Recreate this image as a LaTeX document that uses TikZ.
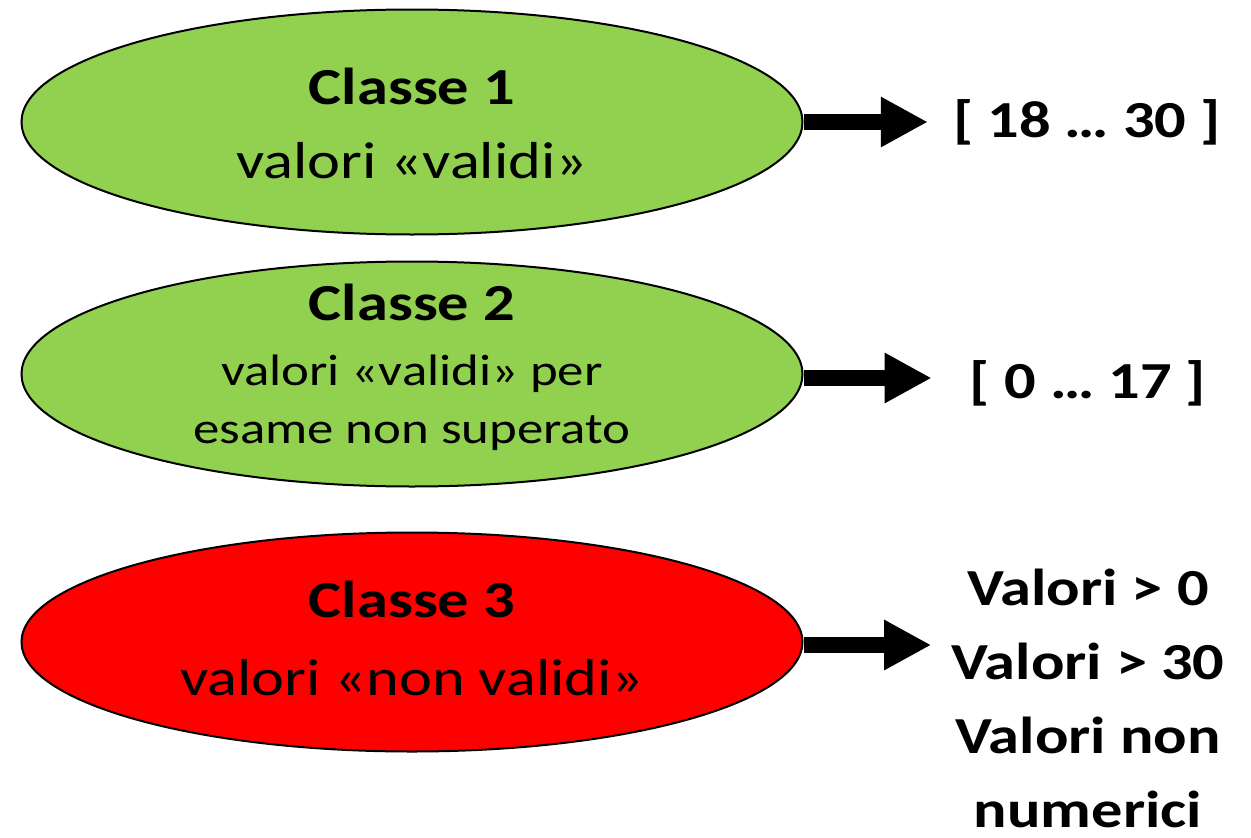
\documentclass[tikz,border=0pt]{standalone}
\usepackage{fontspec}
\setmainfont{Carlito}[FakeStretch=1.2]
\usetikzlibrary{shapes.geometric,arrows.meta}
\definecolor{lgreen}{HTML}{92D050}
\begin{document}
\begin{tikzpicture}[x=1pt,y=-1pt,
  cls/.style={ellipse,draw=black,line width=2pt,minimum width=781pt,minimum height=225pt,inner sep=0pt},
  title/.style={font=\fontsize{52}{62}\selectfont\bfseries,anchor=base,inner sep=0pt},
  sub/.style={font=\fontsize{52}{62}\selectfont,anchor=base,inner sep=0pt},
  subsmall/.style={font=\fontsize{44}{58}\selectfont,anchor=base,inner sep=0pt},
  res/.style={font=\fontsize{52}{74}\selectfont\bfseries,align=center,anchor=base,inner sep=0pt},
  arr/.style={line width=16pt,-{Triangle[length=47pt 0 0,width=47pt 0 0]}}]
\useasboundingbox (0,0) rectangle (1251,838);

\node[cls,fill=lgreen] (e1) at (412,122) {};
\node[cls,fill=lgreen] (e2) at (412,374) {};
\node[cls,fill=red,minimum height=219pt] (e3) at (412,642) {};

\node[title] (c1) at (412,104) {Classe 1};
\node[sub] (s1) at (412,178) {valori «validi»};

\node[title] (c2) at (412,320) {Classe 2};
\node[subsmall] (s2) at (412,385) {valori «validi» per};
\node[subsmall] (s2b) at (412,443) {esame non superato};

\node[title] (c3) at (412,617) {Classe 3};
\node[sub] (s3) at (412,695) {valori «non validi»};

\node[res] (t1) at (1087,137) {[ 18 … 30 ]};
\node[res] (t2) at (1088,398) {[ 0 … 17 ]};
\node[res] (t3) at (1088,827) {Valori > 0\\Valori > 30\\Valori non\\numerici};

\draw[arr,shorten >=25pt] (e1.east) -- (e1.east -| t1.west);
\draw[arr,shorten >=38pt] ([yshift=-4pt]e2.east) -- ([yshift=-4pt]e2.east -| t2.west);
\draw[arr,shorten >=20pt] ([yshift=-3pt]e3.east) -- ([yshift=-3pt]e3.east -| t3.west);
\end{tikzpicture}
\end{document}
